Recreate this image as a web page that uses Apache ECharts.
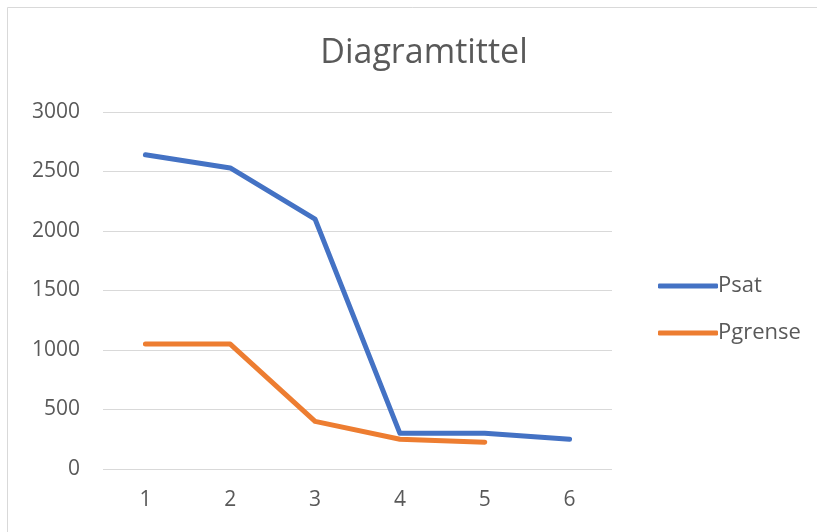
<!DOCTYPE html>
<html>
<head>
<meta charset="utf-8">
<script src="https://cdn.jsdelivr.net/npm/echarts@6/dist/echarts.min.js"></script>
<style>
html,body{margin:0;padding:0;background:#fff;}
#c{width:817px;height:532px;}
</style>
</head>
<body>
<div id="c"></div>
<script>
const categories = ['1','2','3','4','5','6'];
const psat = [2640, 2530, 2100, 300, 300, 250];
const pgrense = [1050, 1050, 400, 250, 225, null];
const seriesNames = ['Psat', 'Pgrense'];
const titleText = 'Diagramtittel';

const chart = echarts.init(document.getElementById('c'), null, {renderer: 'canvas'});
const font = '"Open Sans", "Noto Sans", sans-serif';
chart.setOption({
  animation: false,
  backgroundColor: '#fff',
  textStyle: {fontFamily: font},
  graphic: [{
    type: 'rect',
    shape: {x: 7.5, y: 7.5, width: 830, height: 540},
    style: {fill: 'none', stroke: '#d9d9d9', lineWidth: 1},
    silent: true
  }],
  title: {
    text: titleText,
    left: 419, textAlign: 'center', top: 31,
    textStyle: {fontFamily: font, fontSize: 34, fontWeight: 'normal', color: '#595959'}
  },
  legend: {
    orient: 'vertical',
    left: 653, top: 270,
    itemWidth: 60, itemHeight: 5, itemGap: 25,
    icon: 'roundRect',
    textStyle: {fontFamily: font, fontSize: 22, color: '#595959', padding: [0,0,0,-5]},
    data: seriesNames
  },
  grid: {left: 103, right: 205, top: 112, bottom: 63, containLabel: false},
  xAxis: {
    type: 'category',
    data: categories,
    boundaryGap: true,
    axisLine: {show: false},
    axisTick: {show: false},
    axisLabel: {color: '#595959', fontSize: 21, fontFamily: font, margin: 21}
  },
  yAxis: {
    type: 'value',
    min: 0, max: 3000, interval: 500,
    axisLine: {show: false},
    axisTick: {show: false},
    axisLabel: {color: '#595959', fontSize: 21, fontFamily: font, margin: 23, formatter: v => String(v)},
    splitLine: {lineStyle: {color: '#d9d9d9', width: 1}}
  },
  series: [
    {name: seriesNames[0], type: 'line', data: psat, symbol: 'none',
     lineStyle: {width: 5, color: '#4472C4', cap: 'round', join: 'round'}, itemStyle: {color: '#4472C4'}},
    {name: seriesNames[1], type: 'line', data: pgrense, symbol: 'none',
     lineStyle: {width: 5, color: '#ED7D31', cap: 'round', join: 'round'}, itemStyle: {color: '#ED7D31'}}
  ]
});
</script>
</body>
</html>
